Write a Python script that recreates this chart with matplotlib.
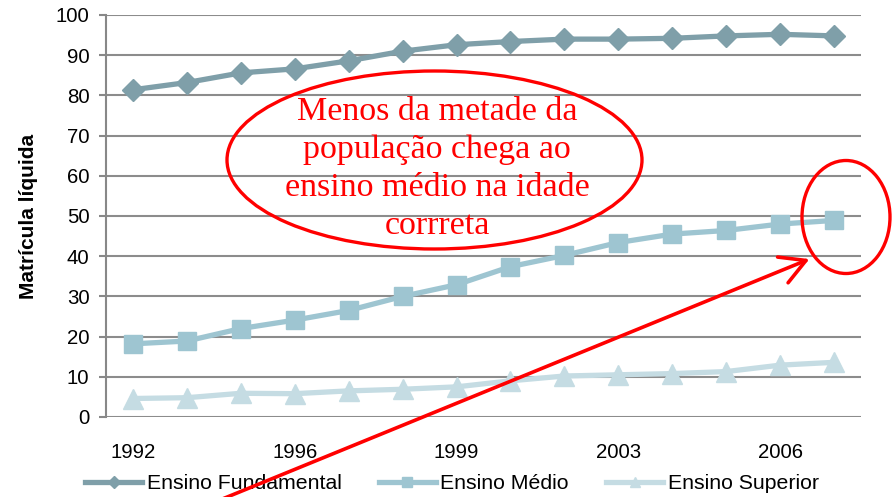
import matplotlib
matplotlib.use("Agg")
import matplotlib.pyplot as plt
from matplotlib.patches import Ellipse, FancyArrowPatch

years = ["1992", "1993", "1995", "1996", "1997", "1998", "1999",
         "2001", "2002", "2003", "2004", "2005", "2006", "2007"]
fundamental = [81.4, 83.2, 85.6, 86.6, 88.6, 91.0, 92.6, 93.4, 94.0, 94.0, 94.2, 94.8, 95.2, 94.8]
medio = [18.2, 18.9, 22.0, 24.1, 26.5, 30.0, 32.9, 37.4, 40.2, 43.4, 45.5, 46.4, 48.0, 48.9]
superior = [4.6, 4.8, 5.9, 5.8, 6.5, 6.9, 7.5, 9.0, 10.2, 10.5, 10.8, 11.3, 12.9, 13.6]
series_names = ["Ensino Fundamental", "Ensino Médio", "Ensino Superior"]
shown_labels = ["1992", "1996", "1999", "2003", "2006"]
ylabel = "Matrícula líquida"
note = "Menos da metade da\npopulação chega ao\nensino médio na idade\ncorrreta"

plt.rcParams['font.family'] = ['Liberation Sans', 'DejaVu Sans']

fig = plt.figure(figsize=(8.95, 4.97), dpi=100)
ax = fig.add_axes([106/895, 1-417/497, (861-106)/895, (417-15)/497])

x = list(range(len(years)))
c_f, c_m, c_s = "#7f9fa9", "#9ec5d1", "#c5dce3"
ax.plot(x, fundamental, color=c_f, lw=3.8, marker="D", ms=11, label=series_names[0], zorder=3)
ax.plot(x, medio, color=c_m, lw=3.8, marker="s", ms=13.5, label=series_names[1], zorder=3)
ax.plot(x, superior, color=c_s, lw=3.8, marker="^", ms=14, label=series_names[2], zorder=3)

ax.set_xlim(-0.5, len(years) - 0.5)
ax.set_ylim(0, 100)
ax.set_yticks(range(0, 101, 10))
ax.set_xticks([years.index(y) for y in shown_labels])
ax.set_xticklabels(shown_labels)
ax.tick_params(axis='x', length=0, pad=19, labelsize=14.7)
ax.tick_params(axis='y', length=5, width=1.5, color="#888888", pad=7, labelsize=14.7)
ax.grid(axis='y', color="#8c8c8c", lw=1.5)
ax.set_axisbelow(True)
for s in ["top", "right", "bottom"]:
    ax.spines[s].set_visible(False)
ax.spines["left"].set_color("#888888")
ax.spines["left"].set_linewidth(1.5)
ax.set_ylabel(ylabel, fontsize=15, fontweight="bold", labelpad=13)

leg = ax.legend(loc="upper center", bbox_to_anchor=(0.458, -0.095), ncol=3, frameon=False,
                fontsize=15.3, handlelength=2.7, columnspacing=1.75, handletextpad=0.2,
                markerscale=0.55)

# annotations in figure pixels
def fx(px):
    return px / 895
def fy(py):
    return 1 - py / 497

big = Ellipse((fx(434.5), fy(160)), width=415/895, height=178/497, transform=fig.transFigure,
              fill=False, ec="#ff0000", lw=2.4, zorder=5)
fig.add_artist(big)
small = Ellipse((fx(846), fy(217)), width=88/895, height=113/497, transform=fig.transFigure,
                fill=False, ec="#ff0000", lw=2.4, zorder=5)
fig.add_artist(small)
fig.text(fx(437), fy(169), note, color="#ff0000", ha="center", va="center",
         fontsize=24.5, family=["Liberation Serif"], linespacing=1.32, zorder=6)
arr = FancyArrowPatch((fx(215), fy(502)), (fx(812), fy(258)), transform=fig.transFigure,
                      arrowstyle="->,head_length=18,head_width=10", mutation_scale=1,
                      color="#ff0000", lw=2.6, zorder=6)
fig.add_artist(arr)

fig.savefig("out.png", dpi=100)
